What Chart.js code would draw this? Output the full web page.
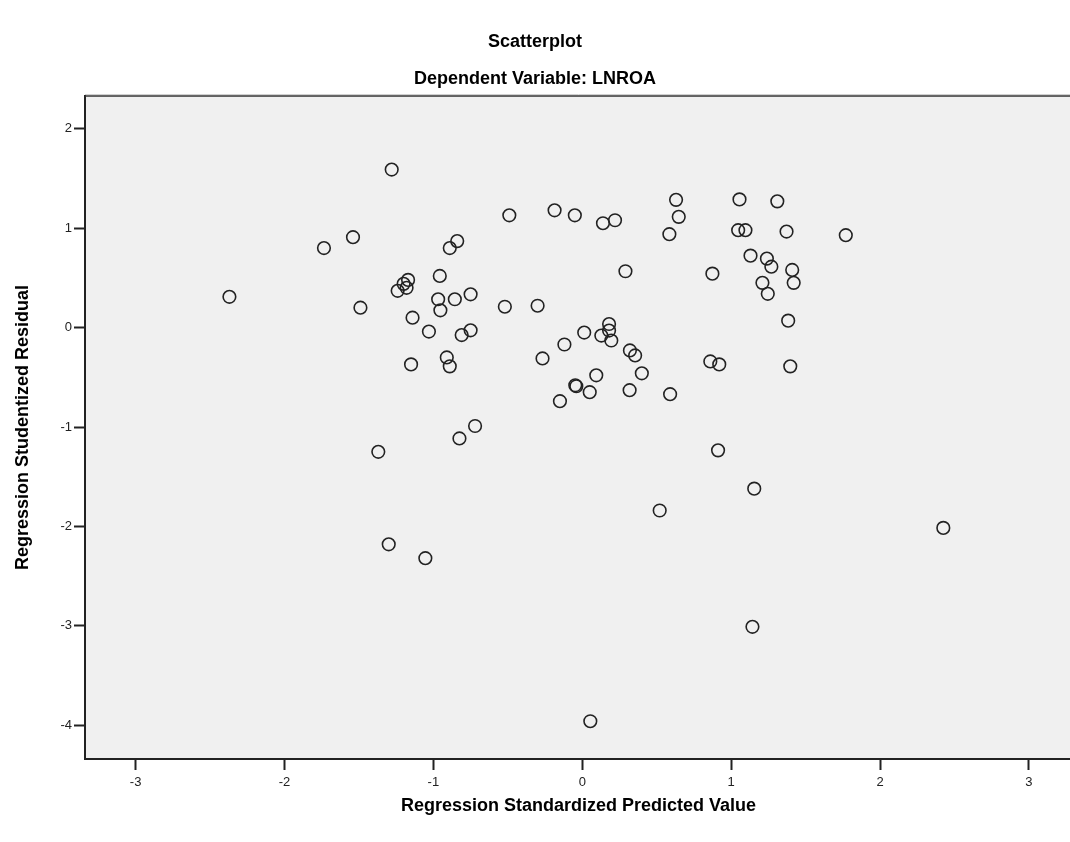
<!DOCTYPE html>
<html>
<head>
<meta charset="utf-8">
<script src="https://cdn.jsdelivr.net/npm/chart.js@4.4.0/dist/chart.umd.min.js"></script>
<style>
html, body { margin: 0; padding: 0; background: #fff; overflow: hidden; width: 1070px; height: 842px; }
#wrap { width: 1080px; height: 842px; position: relative; }
</style>
</head>
<body>
<div id="wrap"><canvas id="chart"></canvas></div>
<script>
// Regression Standardized Predicted Value (x) / Studentized Residual (y)
var predicted = [
	-2.37, -1.735, -1.54, -1.49, -1.28, -1.37, -1.30, -1.054, -1.24, -1.20,
	-1.17, -1.18, -1.14, -1.15, -1.03, -0.957, -0.968, -0.953, -0.89, -0.84,
	-0.856, -0.75, -0.81, -0.75, -0.91, -0.89, -0.825, -0.72, -0.52, -0.49,
	-0.30, -0.267, -0.186, -0.15, -0.12, -0.05, -0.047, -0.04, 0.013, 0.05,
	0.054, 0.094, 0.128, 0.139, 0.18, 0.18, 0.195, 0.22, 0.29, 0.32,
	0.318, 0.355, 0.40, 0.52, 0.585, 0.59, 0.63, 0.648, 0.86, 0.874,
	0.912, 0.92, 1.047, 1.056, 1.096, 1.13, 1.143, 1.155, 1.21, 1.24,
	1.246, 1.27, 1.31, 1.372, 1.383, 1.397, 1.41, 1.42, 1.77, 2.425
];
var residual = [
	0.31, 0.80, 0.91, 0.20, 1.59, -1.25, -2.18, -2.32, 0.37, 0.44,
	0.48, 0.40, 0.10, -0.37, -0.04, 0.52, 0.285, 0.174, 0.80, 0.87,
	0.285, 0.335, -0.075, -0.027, -0.30, -0.39, -1.115, -0.99, 0.21, 1.13,
	0.22, -0.31, 1.18, -0.74, -0.17, 1.13, -0.58, -0.59, -0.05, -0.65,
	-3.96, -0.48, -0.08, 1.05, 0.036, -0.03, -0.13, 1.08, 0.567, -0.23,
	-0.63, -0.28, -0.46, -1.84, 0.94, -0.67, 1.285, 1.114, -0.34, 0.543,
	-1.235, -0.37, 0.98, 1.29, 0.98, 0.724, -3.01, -1.62, 0.45, 0.694,
	0.34, 0.613, 1.27, 0.966, 0.07, -0.39, 0.58, 0.45, 0.93, -2.015
];
var xTicks = [-3, -2, -1, 0, 1, 2, 3];
var yTicks = [-4, -3, -2, -1, 0, 1, 2];

var titleText = "Scatterplot";
var subtitleText = "Dependent Variable: LNROA";

var points = predicted.map(function (x, i) {
	return { x: x, y: residual[i] };
});

var FONT = "'Liberation Sans', Arial, sans-serif";

// grey plot background, top frame line and the two title lines
var frame = {
	id: 'frame',
	beforeDraw: function (chart) {
		var a = chart.chartArea, ctx = chart.ctx;
		ctx.save();
		ctx.fillStyle = '#f0f0f0';
		ctx.fillRect(a.left, a.top, a.right - a.left, a.bottom - a.top);
		ctx.restore();
	},
	afterDraw: function (chart) {
		var a = chart.chartArea, ctx = chart.ctx;
		ctx.save();
		ctx.strokeStyle = '#d0d0d0';
		ctx.lineWidth = 1;
		ctx.beginPath();
		ctx.moveTo(a.left, a.top - 1.5);
		ctx.lineTo(a.right, a.top - 1.5);
		ctx.stroke();
		ctx.strokeStyle = '#333';
		ctx.lineWidth = 1.5;
		ctx.beginPath();
		ctx.moveTo(a.left, a.top);
		ctx.lineTo(a.right, a.top);
		ctx.stroke();

		ctx.fillStyle = '#000';
		ctx.textAlign = 'center';
		ctx.textBaseline = 'middle';
		ctx.font = 'bold 18px ' + FONT;
		ctx.fillText(titleText, 535, 42);
		ctx.fillText(subtitleText, 535, 79);
		ctx.restore();
	}
};

new Chart(document.getElementById('chart'), {
	type: 'scatter',
	data: {
		datasets: [{
			data: points,
			pointStyle: 'circle',
			pointRadius: 6.3,
			pointBorderWidth: 1.6,
			pointBorderColor: '#222',
			pointBackgroundColor: 'rgba(0,0,0,0)'
		}]
	},
	options: {
		responsive: true,
		maintainAspectRatio: false,
		animation: false,
		layout: { padding: { top: 96, left: 0, right: 0, bottom: 0 } },
		plugins: {
			legend: { display: false },
			tooltip: { enabled: false }
		},
		scales: {
			x: {
				type: 'linear',
				min: -3.34,
				max: 3.29,
				afterBuildTicks: function (scale) {
					scale.ticks = xTicks.map(function (v) { return { value: v }; });
				},
				afterFit: function (scale) {
					scale.height = 83;
					scale.paddingLeft = 0;
					scale.paddingRight = 0;
				},
				grid: {
					drawOnChartArea: false,
					drawTicks: true,
					tickLength: 11,
					tickColor: '#222',
					tickWidth: 2
				},
				border: { display: true, color: '#222', width: 2 },
				ticks: {
					color: '#222',
					font: { family: FONT, size: 13 },
					padding: 5,
					maxRotation: 0
				},
				title: {
					display: true,
					text: 'Regression Standardized Predicted Value',
					color: '#000',
					font: { family: FONT, size: 18, weight: 'bold' },
					padding: { top: 0, bottom: 25 }
				}
			},
			y: {
				type: 'linear',
				min: -4.34,
				max: 2.33,
				afterBuildTicks: function (scale) {
					scale.ticks = yTicks.map(function (v) { return { value: v }; });
				},
				afterFit: function (scale) { scale.width = 85; },
				grid: {
					drawOnChartArea: false,
					drawTicks: true,
					tickLength: 11,
					tickColor: '#222',
					tickWidth: 2
				},
				border: { display: true, color: '#222', width: 2 },
				ticks: {
					color: '#222',
					font: { family: FONT, size: 13 },
					padding: 2
				},
				title: {
					display: true,
					text: 'Regression Studentized Residual',
					color: '#000',
					font: { family: FONT, size: 18, weight: 'bold' },
					padding: { top: 12, bottom: 0 }
				}
			}
		}
	},
	plugins: [frame]
});
</script>
</body>
</html>
